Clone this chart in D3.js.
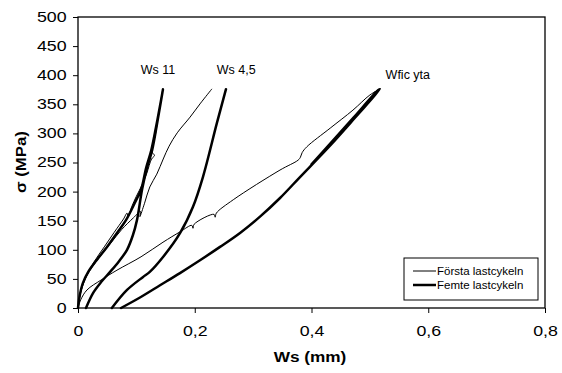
<!DOCTYPE html>
<html>
<head>
<meta charset="utf-8">
<script src="https://cdn.jsdelivr.net/npm/d3@7/dist/d3.min.js"></script>
<style>
	body { margin: 0; background: #fff; }
	text { font-family: Arial, "Liberation Sans", sans-serif; fill: #000; }
</style>
</head>
<body>
<svg id="chart" width="562" height="373"></svg>
<script>
// tick values
const xTicks = [0, 0.2, 0.4, 0.6, 0.8];
const yTicks = [0, 50, 100, 150, 200, 250, 300, 350, 400, 450, 500];

// [Ws (mm), sigma (MPa)]
// first load cycle (thin)
const ws11First = [[0,0],[0.004,25],[0.012,50],[0.028,80],[0.045,105],[0.062,130],[0.078,153],[0.084,163],[0.086,157],[0.092,174],[0.1,192],[0.11,212],[0.118,232],[0.126,256],[0.131,262],[0.127,268],[0.133,300],[0.139,338],[0.145,375]];
const ws45First = [[0,0],[0.005,28],[0.015,55],[0.035,85],[0.055,110],[0.075,135],[0.095,155],[0.107,166],[0.106,157],[0.114,180],[0.123,208],[0.135,230],[0.146,256],[0.156,278],[0.17,301],[0.192,328],[0.21,352],[0.229,376]];
const wficFirst = [[0,0],[0.0046,14],[0.0154,31],[0.0394,48],[0.0668,65],[0.108,88],[0.1456,113],[0.175,131],[0.195,142],[0.197,137],[0.199,144],[0.233,161],[0.235,156],[0.237,163],[0.266,186],[0.346,237],[0.377,254],[0.381,259],[0.384,267],[0.392,277],[0.432,309],[0.471,340],[0.5,366],[0.517,376],[0.508,371]];

// fifth load cycle (thick), load and unload
const ws11Fifth = [[0.0137,0],[0.026,26],[0.04,45],[0.055,62],[0.07,80],[0.084,100],[0.094,125],[0.101,151],[0.11,205],[0.118,240],[0.127,271],[0.136,320],[0.1456,376],[0.141,350],[0.1335,310],[0.1255,271],[0.1165,240],[0.1085,205],[0.097,180],[0.0822,151],[0.0668,129],[0.0497,105],[0.0325,83],[0.0175,62],[0.008,42],[0.003,22],[0,0]];
const ws45Fifth = [[0.058,0],[0.084,31],[0.111,53],[0.123,62],[0.146,88],[0.175,129],[0.197,174],[0.214,225],[0.238,318],[0.2535,376]];
const wficFifth = [[0.0737,0],[0.1062,18],[0.1405,39],[0.1747,60],[0.209,82],[0.2433,105],[0.2776,129],[0.3118,157],[0.3461,189],[0.3803,225],[0.4317,279],[0.4745,327],[0.5173,376],[0.514,374],[0.472,327],[0.429,279],[0.40,247]];

const annotations = [
	{text: 'Ws 11', w: 0.137, s: 402},
	{text: 'Ws 4,5', w: 0.271, s: 402},
	{text: 'Wfic yta', w: 0.565, s: 393}
];
const legendLabels = ['Första lastcykeln', 'Femte lastcykeln'];

const plotLeft = 78, plotRight = 545, plotTop = 17, plotBottom = 308;
const stretch = 1.27;

const svg = d3.select('#chart');

const x = d3.scaleLinear().domain([0, 0.8]).range([plotLeft, plotRight]);
const y = d3.scaleLinear().domain([0, 500]).range([plotBottom, plotTop]);

let fmt = d => d === 0 ? '0' : d3.format('.1f')(d).replace('.', ',');

// axes
let xAxis = svg.append('g')
	.attr('transform', `translate(0,${plotBottom})`)
	.call(d3.axisBottom(x).tickValues(xTicks).tickFormat(fmt).tickSize(5).tickSizeOuter(0).tickPadding(13));

let yAxis = svg.append('g')
	.attr('transform', `translate(${plotLeft},0)`)
	.call(d3.axisLeft(y).tickValues(yTicks).tickSize(5).tickSizeOuter(0).tickPadding(4));

[xAxis, yAxis].forEach(g => {
	g.select('.domain').remove();
	g.selectAll('line').attr('stroke', '#000');
	g.selectAll('text')
		.attr('font-size', 14)
		.attr('fill', '#000')
		.attr('transform', `scale(${stretch},1)`);
});

// frame
svg.append('rect')
	.attr('x', plotLeft).attr('y', plotTop)
	.attr('width', plotRight - plotLeft).attr('height', plotBottom - plotTop)
	.attr('fill', 'none').attr('stroke', '#000').attr('stroke-width', 1.3);

// curves
const line = d3.line()
	.x(d => x(d[0]))
	.y(d => y(d[1]))
	.curve(d3.curveCatmullRom.alpha(0.5));

let curves = [
	{data: ws11First, width: 1},
	{data: ws45First, width: 1},
	{data: wficFirst, width: 1},
	{data: ws11Fifth, width: 2.5},
	{data: ws45Fifth, width: 2.5},
	{data: wficFifth, width: 2.5}
];

svg.append('g')
	.selectAll('path')
	.data(curves)
	.enter()
	.append('path')
	.attr('d', d => line(d.data))
	.attr('fill', 'none')
	.attr('stroke', '#000')
	.attr('stroke-width', d => d.width)
	.attr('stroke-linejoin', 'round')
	.attr('stroke-linecap', 'round');

// labels on the curves
svg.append('g')
	.selectAll('text')
	.data(annotations)
	.enter()
	.append('text')
	.attr('x', d => x(d.w))
	.attr('y', d => y(d.s))
	.attr('text-anchor', 'middle')
	.attr('font-size', 12.5)
	.text(d => d.text);

// axis titles
svg.append('g')
	.attr('transform', `translate(310,362) scale(${stretch - 0.04},1)`)
	.append('text')
	.attr('text-anchor', 'middle')
	.attr('font-size', 14)
	.attr('font-weight', 'bold')
	.text('Ws (mm)');

svg.append('g')
	.attr('transform', `translate(26,162) rotate(-90) scale(${stretch - 0.07},1)`)
	.append('text')
	.attr('text-anchor', 'middle')
	.attr('font-size', 14)
	.attr('font-weight', 'bold')
	.text('σ (MPa)');

// legend
let legend = svg.append('g').attr('transform', 'translate(404,258)');
legend.append('rect')
	.attr('width', 134).attr('height', 42)
	.attr('fill', '#fff').attr('stroke', '#000').attr('stroke-width', 1);

let items = legend.selectAll('g.item')
	.data(legendLabels)
	.enter()
	.append('g')
	.attr('class', 'item')
	.attr('transform', (d, i) => `translate(9,${13 + i * 14})`);

items.append('line')
	.attr('x1', 0).attr('x2', 23)
	.attr('stroke', '#000')
	.attr('stroke-width', (d, i) => i === 0 ? 1 : 2.5);

items.append('text')
	.attr('x', 24)
	.attr('dy', '0.35em')
	.attr('font-size', 11.5)
	.text(d => d);
</script>
</body>
</html>
